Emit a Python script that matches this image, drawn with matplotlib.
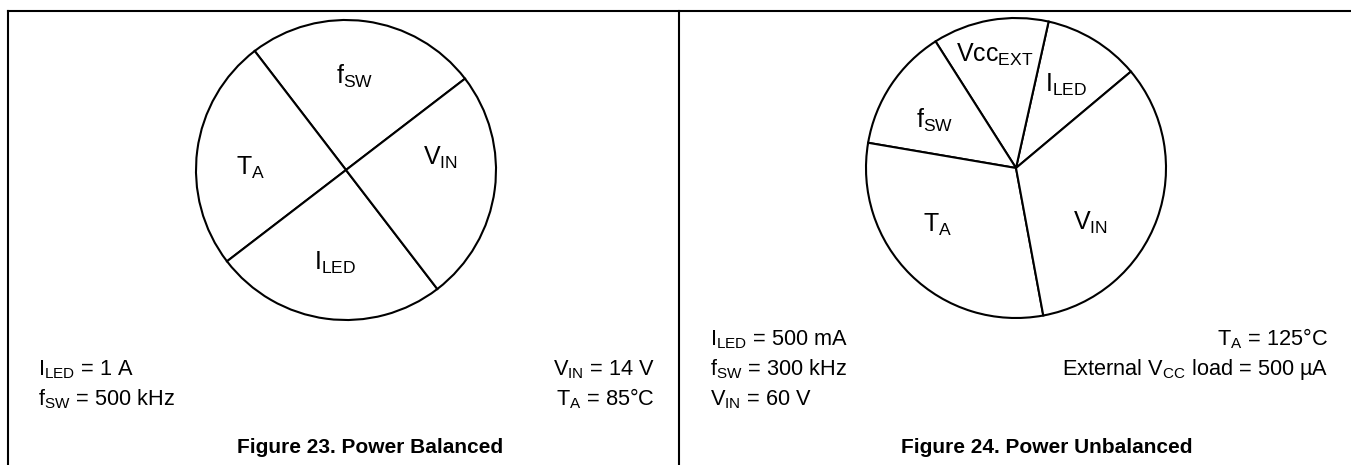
import matplotlib
matplotlib.use("Agg")
import matplotlib.pyplot as plt

plt.rcParams["font.family"] = ["Liberation Sans", "DejaVu Sans"]
plt.rcParams["mathtext.fontset"] = "custom"
plt.rcParams["mathtext.rm"] = "Liberation Sans"

# 数据: 各参数在功耗中的占比 (%)
bal_labels = [r"$\mathregular{f_{SW}}$", r"$\mathregular{T_A}$",
              r"$\mathregular{I_{LED}}$", r"$\mathregular{V_{IN}}$"]
bal_values = [25, 25, 25, 25]

unbal_labels = [r"$\mathregular{I_{LED}}$", r"$\mathregular{Vcc_{EXT}}$",
                r"$\mathregular{f_{SW}}$", r"$\mathregular{T_A}$",
                r"$\mathregular{V_{IN}}$"]
unbal_values = [10.4, 12.5, 13.3, 30.6, 33.2]

bal_notes_left = [r"$\mathregular{I_{LED}}$ = 1 A", r"$\mathregular{f_{SW}}$ = 500 kHz"]
bal_notes_right = [r"$\mathregular{V_{IN}}$ = 14 V", r"$\mathregular{T_A}$ = 85°C"]
unbal_notes_left = [r"$\mathregular{I_{LED}}$ = 500 mA", r"$\mathregular{f_{SW}}$ = 300 kHz",
                    r"$\mathregular{V_{IN}}$ = 60 V"]
unbal_notes_right = [r"$\mathregular{T_A}$ = 125°C",
                     r"External $\mathregular{V_{CC}}$ load = 500 µA"]

W, H = 1351, 465
fig = plt.figure(figsize=(W / 100, H / 100), dpi=100)
ax = fig.add_axes([0, 0, 1, 1])


def Y(y):
    # 像素坐标 (向下) -> 数据坐标 (向上)
    return H - y


wp = dict(edgecolor="black", facecolor="white", linewidth=1.5)

# 左图: 平衡
ax.pie(bal_values, startangle=37.5, counterclock=True, center=(346, Y(170)),
       radius=150, wedgeprops=wp)
bal_pos = [(355, 84), (251, 175), (335, 270), (440, 165)]
for lab, (x, y) in zip(bal_labels, bal_pos):
    ax.text(x, Y(y), lab, ha="center", va="baseline", fontsize=18)

# 右图: 不平衡
ax.pie(unbal_values, startangle=40, counterclock=True, center=(1016, Y(168)),
       radius=150, wedgeprops=wp)
unbal_pos = [(1066, 92), (995, 62), (935, 128), (938, 232), (1090, 230)]
for lab, (x, y) in zip(unbal_labels, unbal_pos):
    ax.text(x, Y(y), lab, ha="center", va="baseline", fontsize=18)

# 注释文字
fs = 15.7
rows_l = [375, 405]
rows_r = [345, 375, 405]
for i, s in enumerate(bal_notes_left):
    ax.text(38, Y(rows_l[i]), s, ha="left", va="baseline", fontsize=fs)
for i, s in enumerate(bal_notes_right):
    ax.text(655, Y(rows_l[i]), s, ha="right", va="baseline", fontsize=fs)
for i, s in enumerate(unbal_notes_left):
    ax.text(710, Y(rows_r[i]), s, ha="left", va="baseline", fontsize=fs)
for i, s in enumerate(unbal_notes_right):
    ax.text(1328, Y(rows_r[i]), s, ha="right", va="baseline", fontsize=fs)

ax.text(370, Y(453), "Figure 23. Power Balanced", ha="center", va="baseline",
        fontsize=15, fontweight="bold")
ax.text(1047, Y(453), "Figure 24. Power Unbalanced", ha="center", va="baseline",
        fontsize=15, fontweight="bold")

# 边框
ax.plot([8, W], [Y(11), Y(11)], color="black", lw=1.5)
ax.plot([8, 8], [Y(11), 0], color="black", lw=1.5)
ax.plot([679, 679], [Y(11), 0], color="black", lw=1.5)

ax.set_xlim(0, W)
ax.set_ylim(0, H)
ax.set_aspect("auto")
ax.axis("off")

fig.savefig("out.png", dpi=100)
